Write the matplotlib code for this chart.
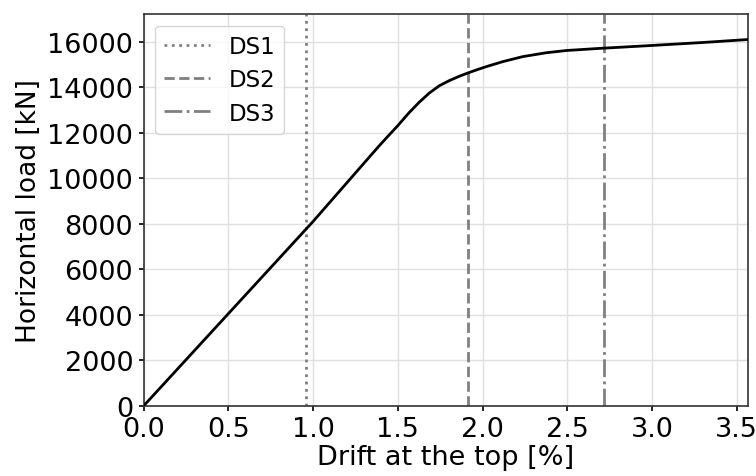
import matplotlib
matplotlib.use("Agg")
import matplotlib.pyplot as plt

drift = [0.0, 0.5, 1.0, 1.331, 1.39, 1.449, 1.499, 1.567, 1.627, 1.686, 1.745,
         1.805, 1.864, 1.913, 1.982, 2.031, 2.12, 2.238, 2.376, 2.498, 2.711,
         2.81, 3.0, 3.3, 3.565]
load = [0, 4050, 8100, 10920, 11420, 11900, 12300, 12880, 13340, 13740, 14060,
        14290, 14480, 14620, 14800, 14920, 15120, 15340, 15510, 15610, 15710,
        15750, 15830, 15960, 16090]

ds_labels = ["DS1", "DS2", "DS3"]
ds_drift = [0.957, 1.915, 2.716]
ds_styles = [":", "--", "-."]

plt.rcParams['font.family'] = ['DejaVu Sans']
fig = plt.figure(figsize=(7.56, 4.77), dpi=100)
ax = fig.add_axes([0.190, 0.147, 0.799, 0.821])

ax.plot(drift, load, color="black", lw=2, zorder=3)
for lab, d, ls in zip(ds_labels, ds_drift, ds_styles):
    ax.axvline(d, color="gray", ls=ls, lw=2, label=lab)

ax.set_xlim(0, 3.565)
ax.set_ylim(0, 17200)
ax.set_xticks([0, 0.5, 1.0, 1.5, 2.0, 2.5, 3.0, 3.5])
ax.set_yticks(range(0, 16001, 2000))
ax.tick_params(labelsize=19.5, length=3.5, width=1.2, pad=4)
ax.grid(True, color="#e0e0e0", lw=1)
ax.set_axisbelow(True)
for s in ax.spines.values():
    s.set_color("#333333")
    s.set_linewidth(1.2)
ax.set_xlabel("Drift at the top [%]", fontsize=19.5, labelpad=1)
ax.set_ylabel("Horizontal load [kN]", fontsize=19, labelpad=4)
ax.legend(loc="upper left", fontsize=16.5, handlelength=2.0, framealpha=0.8,
          borderaxespad=0.5, labelspacing=0.45, handletextpad=0.8)

fig.savefig("out.png", dpi=100)
